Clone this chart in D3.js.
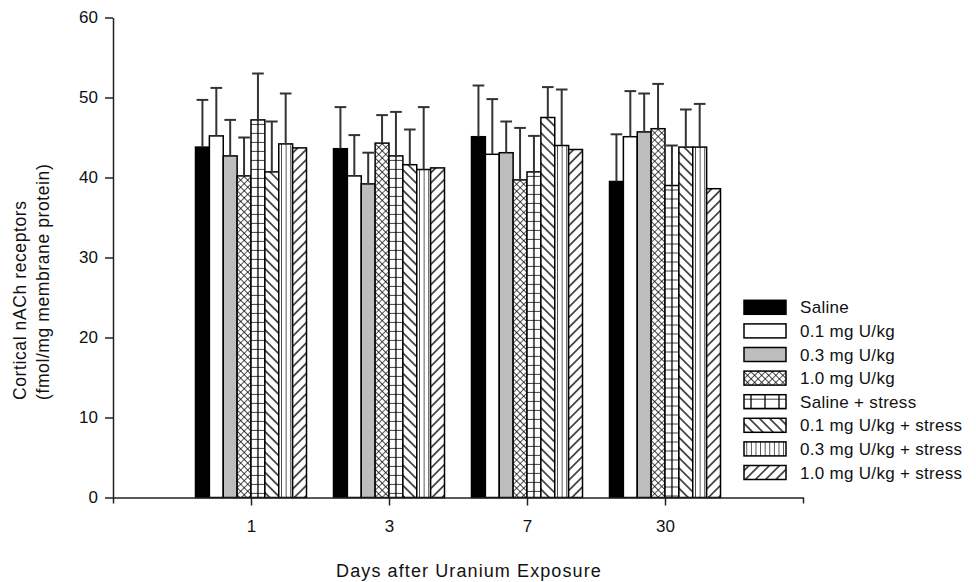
<!DOCTYPE html>
<html>
<head>
<meta charset="utf-8">
<script src="https://cdn.jsdelivr.net/npm/d3@7/dist/d3.min.js"></script>
<style>
  html, body { margin: 0; padding: 0; background: #fff; }
  svg { display: block; }
  text { font-family: "Liberation Sans", Arial, sans-serif; fill: #111; }
</style>
</head>
<body>
<svg id="chart" width="976" height="582"></svg>
<script>
// Days after exposure (x categories)
const days = ["1", "3", "7", "30"];

// Treatment groups, in drawing order within each day
const groups = [
  "Saline",
  "0.1 mg U/kg",
  "0.3 mg U/kg",
  "1.0 mg U/kg",
  "Saline + stress",
  "0.1 mg U/kg + stress",
  "0.3 mg U/kg + stress",
  "1.0 mg U/kg + stress"
];

// Mean cortical nACh receptor density per group (rows) and day (columns)
const saline        = [43.8, 43.6, 45.1, 39.5];
const u01           = [45.2, 40.2, 42.9, 45.1];
const u03           = [42.7, 39.2, 43.1, 45.7];
const u10           = [40.2, 44.3, 39.7, 46.1];
const salineStress  = [47.2, 42.7, 40.7, 39.0];
const u01Stress     = [40.7, 41.6, 47.5, 43.8];
const u03Stress     = [44.2, 41.0, 44.0, 43.8];
const u10Stress     = [43.7, 41.2, 43.5, 38.6];

// Standard deviations (upper error bars); null = no bar drawn
const salineSD       = [5.9, 5.2, 6.4, 5.9];
const u01SD          = [6.0, 5.1, 6.9, 5.7];
const u03SD          = [4.5, 3.9, 3.9, 4.8];
const u10SD          = [4.8, 3.5, 6.5, 5.6];
const salineStressSD = [5.8, 5.5, 4.5, 5.0];
const u01StressSD    = [6.3, 4.4, 3.8, 4.7];
const u03StressSD    = [6.3, 7.8, 7.0, 5.4];
const u10StressSD    = [null, null, null, null];

const yTicks = [0, 10, 20, 30, 40, 50, 60];

const means = [saline, u01, u03, u10, salineStress, u01Stress, u03Stress, u10Stress];
const sds = [salineSD, u01SD, u03SD, u10SD, salineStressSD, u01StressSD, u03StressSD, u10StressSD];
const fills = ["black", "white", "grey", "cross", "grid", "back", "vert", "fwd"];

const svg = d3.select("#chart");
const defs = svg.append("defs");

const x0 = 113, x1 = 803, yBase = 497.5, yTop = 17.5;

// Day positions: evenly spaced slots, the outer two are the axis ends
const x = d3.scaleLinear().domain([0, days.length + 1]).range([x0, x1]);
const y = d3.scaleLinear().domain([0, 60]).range([yBase, yTop]);
const inner = d3.scaleBand().domain(d3.range(groups.length)).range([-55.5, 55.5]).padding(0);
const bw = inner.bandwidth();

// Fill patterns; each one is anchored at the rectangle it fills
let patId = 0;
function fillFor(kind, px, py, w) {
  if (kind === "black") return "#000";
  if (kind === "white") return "#fff";
  if (kind === "grey") return "#bdbdbd";
  const id = "pat" + (patId++);
  const p = defs.append("pattern").attr("id", id).attr("patternUnits", "userSpaceOnUse");
  const line = (d) => p.append("path").attr("d", d).attr("stroke", "#000").attr("stroke-width", 1.3).attr("fill", "none");
  if (kind === "cross") {
    const s = 5;
    p.attr("width", s).attr("height", s).attr("patternTransform", `translate(${px},${py}) rotate(45)`);
    p.append("rect").attr("width", s).attr("height", s).attr("fill", "#fff");
    line(`M0,0H${s}M0,0V${s}`);
  } else if (kind === "grid") {
    const h = 9;
    p.attr("width", w).attr("height", h).attr("patternTransform", `translate(${px},${py + 4})`);
    p.append("rect").attr("width", w).attr("height", h).attr("fill", "#fff");
    line(`M0,0H${w}M${w / 2},0V${h}`);
  } else if (kind === "back" || kind === "fwd") {
    const s = 7.2;
    p.attr("width", s).attr("height", s)
      .attr("patternTransform", `translate(${px},${py}) rotate(${kind === "back" ? 45 : -45})`);
    p.append("rect").attr("width", s).attr("height", s).attr("fill", "#fff");
    line(`M0,${s / 2}H${s}`);
  } else if (kind === "vert") {
    const s = 4.6;
    p.attr("width", s).attr("height", 10).attr("patternTransform", `translate(${px + 2.3},${py})`);
    p.append("rect").attr("width", s).attr("height", 10).attr("fill", "#fff");
    line(`M0,0V10`);
  }
  return `url(#${id})`;
}

// Bars
const cells = [];
means.forEach((row, g) => row.forEach((v, d) => cells.push({ g, d, v, sd: sds[g][d] })));

const barG = svg.append("g");
cells.forEach(c => {
  const bx = x(c.d + 1) + inner(c.g);
  const by = y(c.v);
  barG.append("rect")
    .attr("x", bx).attr("y", by)
    .attr("width", bw).attr("height", yBase - by)
    .attr("fill", fillFor(fills[c.g], bx, by, bw))
    .attr("stroke", "#000").attr("stroke-width", 1.5);
});

// Upper error bars
const errG = svg.append("g").attr("stroke", "#333").attr("stroke-width", 2);
cells.filter(c => c.sd != null).forEach(c => {
  const cx = x(c.d + 1) + inner(c.g) + bw / 2;
  const yt = y(c.v + c.sd);
  errG.append("line").attr("x1", cx).attr("x2", cx).attr("y1", y(c.v)).attr("y2", yt);
  errG.append("line").attr("x1", cx - bw * 0.42).attr("x2", cx + bw * 0.42).attr("y1", yt).attr("y2", yt);
});

// Y axis
const yAxis = svg.append("g").attr("transform", `translate(${x0},0)`)
  .call(d3.axisLeft(y).tickValues(yTicks).tickSize(8).tickSizeOuter(0).tickPadding(7));
yAxis.select(".domain").attr("stroke", "#222").attr("stroke-width", 1.5);
yAxis.selectAll(".tick line").attr("stroke", "#222").attr("stroke-width", 1.5);
yAxis.selectAll("text").style("font-size", "17px").attr("fill", "#111");

// X axis
const xAxis = svg.append("g").attr("transform", `translate(0,${yBase})`)
  .call(d3.axisBottom(x).tickValues(d3.range(days.length + 2))
    .tickFormat(i => (i >= 1 && i <= days.length) ? days[i - 1] : "")
    .tickSize(8).tickSizeOuter(0).tickPadding(14));
xAxis.select(".domain").attr("stroke", "#222").attr("stroke-width", 1.5);
xAxis.selectAll(".tick line").attr("stroke", "#222").attr("stroke-width", 1.5)
  .attr("y2", (d, i) => (d === 0 || d === days.length + 1) ? 6 : 8);
xAxis.selectAll("text").style("font-size", "17px").attr("fill", "#111");

// Axis titles
svg.append("text")
  .attr("transform", "translate(26,400) rotate(-90)")
  .style("font-size", "17.5px").style("letter-spacing", "0.6px")
  .text("Cortical nACh receptors");
svg.append("text")
  .attr("transform", "translate(49,400) rotate(-90)")
  .style("font-size", "17.5px").style("letter-spacing", "0.6px")
  .text("(fmol/mg membrane protein)");
svg.append("text")
  .attr("x", 469).attr("y", 577).attr("text-anchor", "middle")
  .style("font-size", "18px").style("letter-spacing", "1.1px")
  .text("Days after Uranium Exposure");

// Legend
const lg = svg.append("g");
groups.forEach((name, i) => {
  const cy = 307.3 + i * 23.6;
  const bx = 744, by = cy - 7;
  lg.append("rect").attr("x", bx).attr("y", by).attr("width", 42).attr("height", 14)
    .attr("fill", fillFor(fills[i], bx, by, 14))
    .attr("stroke", "#000").attr("stroke-width", 1.5);
  lg.append("text").attr("x", 800).attr("y", cy).attr("dy", "0.36em")
    .style("font-size", "17px").style("letter-spacing", "0.3px")
    .text(name);
});
</script>
</body>
</html>
